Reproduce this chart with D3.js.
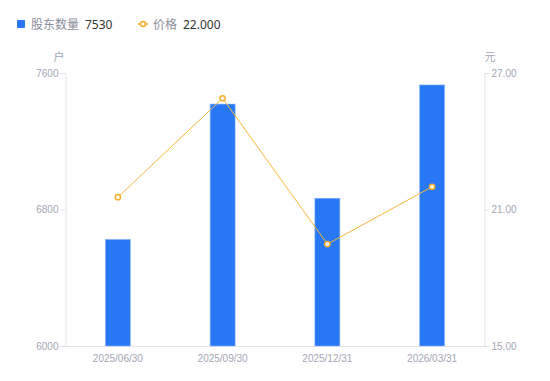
<!DOCTYPE html>
<html><head><meta charset="utf-8">
<script src="https://cdn.jsdelivr.net/npm/d3@7/dist/d3.min.js"></script>
<style>body{margin:0;background:#fff;font-family:"Noto Sans","Noto Sans CJK SC",sans-serif;}</style>
</head><body><svg id="c" width="550" height="381"></svg>
<script>
const categories = ["2025/06/30","2025/09/30","2025/12/31","2026/03/31"];
const holders = [6625, 7418, 6866, 7530];
const prices = [21.54, 25.89, 19.48, 22.00];
const leftTicks = [6000, 6800, 7600];
const rightTicks = [15, 21, 27];

const svg = d3.select("#c");
const L = 65.5, R = 484.5, T = 73, B = 346;
const x = d3.scaleBand().domain(categories).range([L, R]);
const yL = d3.scaleLinear().domain([6000, 7600]).range([B, T]);
const yR = d3.scaleLinear().domain([15, 27]).range([B, T]);
const tickColor = "#a3a6b4", lineColor = "#e3e4e8";

// axes
const gl = svg.append("g").attr("transform", `translate(${L},0)`)
  .call(d3.axisLeft(yL).tickValues(leftTicks).tickSize(5).tickPadding(2).tickFormat(d3.format("d")));
const gr = svg.append("g").attr("transform", `translate(${R},0)`)
  .call(d3.axisRight(yR).tickValues(rightTicks).tickSize(5).tickPadding(2).tickFormat(d3.format(".2f")));
const gb = svg.append("g").attr("transform", `translate(0,${B + 0.5})`)
  .call(d3.axisBottom(x).tickSize(0).tickPadding(8));
[gl, gr, gb].forEach(g => {
  g.selectAll("path").attr("stroke", lineColor);
  g.selectAll("line").attr("stroke", lineColor);
  g.selectAll("text").attr("fill", tickColor).style("font-size", "10px")
    .style("font-family", "'Liberation Sans', Arial, sans-serif");
});
gb.select("path").attr("d", `M${L},0H${R}`);

svg.append("text").attr("x", 59).attr("y", 61).attr("text-anchor", "middle")
  .attr("fill", tickColor).style("font-size", "11px").text("户");
svg.append("text").attr("x", 490).attr("y", 61).attr("text-anchor", "middle")
  .attr("fill", tickColor).style("font-size", "11px").text("元");

// bars
const bw = 25;
svg.append("g").selectAll("rect").data(holders).join("rect")
  .attr("x", (d, i) => x(categories[i]) + x.bandwidth() / 2 - bw / 2)
  .attr("y", d => yL(d))
  .attr("width", bw)
  .attr("height", d => B - yL(d))
  .attr("fill", "#2878f6")
  .attr("stroke", "#8db6f9").attr("stroke-width", 0.6);

// line
const line = d3.line().x((d, i) => x(categories[i]) + x.bandwidth() / 2).y(d => yR(d));
svg.append("path").datum(prices).attr("d", line).attr("fill", "none")
  .attr("stroke", "#f6b73c").attr("stroke-width", 1);
svg.append("g").selectAll("circle").data(prices).join("circle")
  .attr("cx", (d, i) => x(categories[i]) + x.bandwidth() / 2)
  .attr("cy", d => yR(d)).attr("r", 2.6)
  .attr("fill", "#fff").attr("stroke", "#f6ad2c").attr("stroke-width", 1.5);

// legend
const lg = svg.append("g").style("font-size", "12px");
lg.append("rect").attr("x", 17).attr("y", 20).attr("width", 8).attr("height", 8).attr("rx", 1).attr("fill", "#2878f6");
lg.append("text").attr("x", 31).attr("y", 29).attr("fill", "#8a8d99").text("股东数量");
lg.append("text").attr("x", 85).attr("y", 29).attr("fill", "#333").text(d3.format("d")(holders[holders.length - 1]));
lg.append("line").attr("x1", 138).attr("x2", 148).attr("y1", 24).attr("y2", 24).attr("stroke", "#f6ad2c").attr("stroke-width", 1.5);
lg.append("circle").attr("cx", 143).attr("cy", 24).attr("r", 2.5).attr("fill", "#fff").attr("stroke", "#f6ad2c").attr("stroke-width", 1.5);
lg.append("text").attr("x", 153).attr("y", 29).attr("fill", "#8a8d99").text("价格");
lg.append("text").attr("x", 183).attr("y", 29).attr("fill", "#333").text(d3.format(".3f")(prices[prices.length - 1]));
</script></body></html>
